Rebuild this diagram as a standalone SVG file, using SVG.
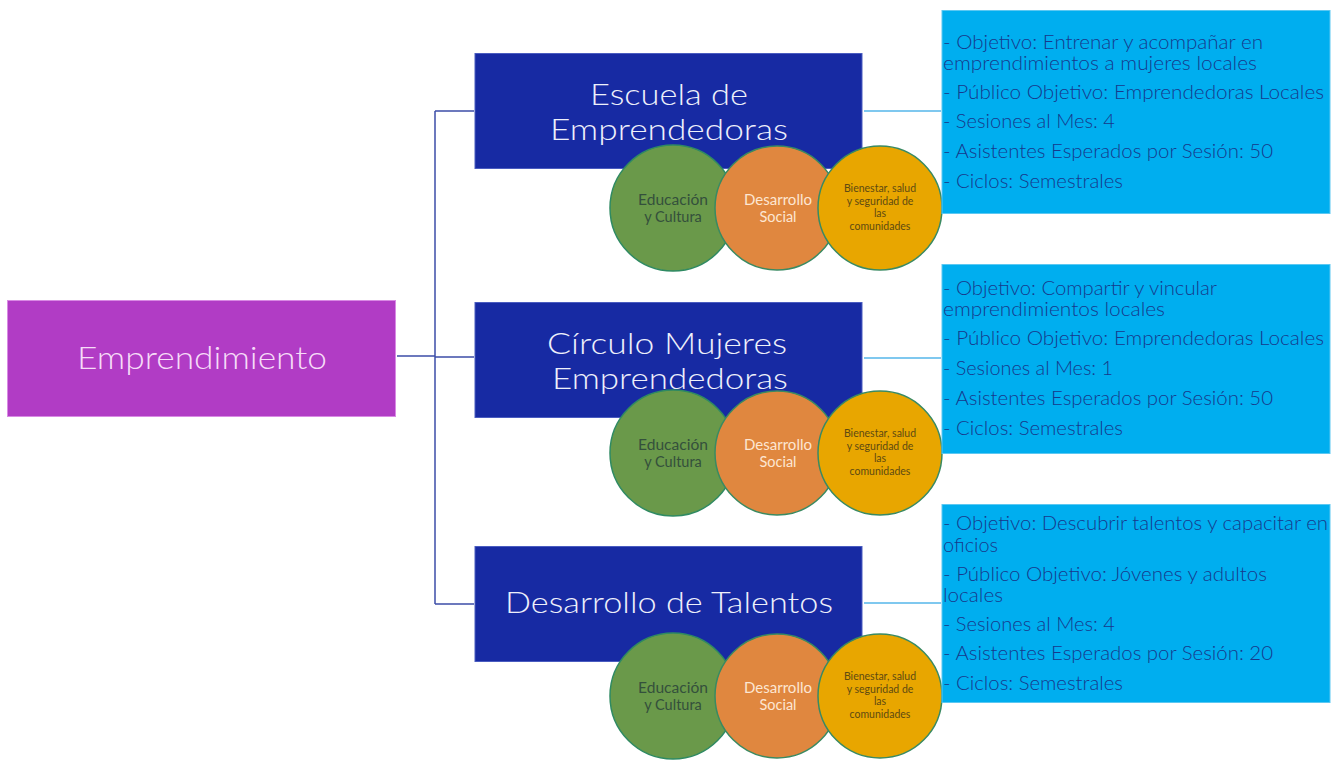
<svg xmlns="http://www.w3.org/2000/svg" width="1341" height="760" viewBox="0 0 1341 760">
<style>
  .root{fill:#b13cc5;stroke:#d98ae4;stroke-width:1}
  .prog{fill:#172aa3;stroke:#4a5cc0;stroke-width:1}
  .info{fill:#00aeef;stroke:#5cc8f2;stroke-width:1}
  .c1{fill:#6a994a;stroke:#2f8a62;stroke-width:1.5}
  .c2{fill:#e0873f;stroke:#3a8a62;stroke-width:1.5}
  .c3{fill:#e8a600;stroke:#3a8a62;stroke-width:1.5}
  .t{font-family:Lato,"Open Sans","Liberation Sans",sans-serif;font-weight:300}
  .ttl{fill:#eef0fb;font-size:30px;text-anchor:middle}
  .rt{fill:#f6dcf8;font-size:32px;text-anchor:middle}
  .it{fill:#17398c;font-size:19px}
  .g{fill:#34503c;font-size:14.5px;text-anchor:middle;font-weight:400}
  .o{fill:#fde6d2;font-size:14.5px;text-anchor:middle;font-weight:400}
  .y{fill:#5e4a12;font-size:10.5px;text-anchor:middle;font-weight:400}
  .cn{fill:none;stroke:#3c4ea8;stroke-width:1.5}
  .cl{fill:none;stroke:#55b6ea;stroke-width:1.5}
</style>
<rect width="1341" height="760" fill="#ffffff"/>
<g id="connectors">
  <path class="cn" d="M397 356 H435 M435 111 V604 M435 111 H474 M435 357 H474 M435 604 H474"/>
  <path class="cl" d="M864 111 H941 M864 358 H941 M864 603 H941"/>
</g>
<g id="emprendimiento">
  <rect class="root" x="7.5" y="300.5" width="388" height="116"/>
  <text class="t rt" x="202" y="369" textLength="250" lengthAdjust="spacingAndGlyphs">Emprendimiento</text>
</g>
<g id="escuela">
  <rect class="prog" x="475" y="53.5" width="387" height="115"/>
  <text class="t ttl" x="669" y="105" textLength="158" lengthAdjust="spacingAndGlyphs">Escuela de</text>
  <text class="t ttl" x="669" y="140" textLength="238" lengthAdjust="spacingAndGlyphs">Emprendedoras</text>
</g>
<g id="escuela-ejes">
  <circle class="c1" cx="673" cy="208" r="63"/>
  <circle class="c2" cx="777" cy="208" r="62"/>
  <circle class="c3" cx="880" cy="208" r="62"/>
  <text class="t g" x="673" y="205" textLength="70" lengthAdjust="spacingAndGlyphs">Educación</text>
  <text class="t g" x="673" y="222">y Cultura</text>
  <text class="t o" x="778" y="205" textLength="68" lengthAdjust="spacingAndGlyphs">Desarrollo</text>
  <text class="t o" x="778" y="222">Social</text>
  <text class="t y" x="880" y="192">Bienestar, salud</text>
  <text class="t y" x="880" y="205">y seguridad de</text>
  <text class="t y" x="880" y="217">las</text>
  <text class="t y" x="880" y="230">comunidades</text>
</g>
<g id="escuela-info">
  <rect class="info" x="942" y="10.5" width="388" height="203"/>
  <text class="t it" x="943" y="49" textLength="320" lengthAdjust="spacingAndGlyphs">- Objetivo: Entrenar y acompañar en</text>
  <text class="t it" x="943" y="70" textLength="314" lengthAdjust="spacingAndGlyphs">emprendimientos a mujeres locales</text>
  <text class="t it" x="943" y="99" textLength="381" lengthAdjust="spacingAndGlyphs">- Público Objetivo: Emprendedoras Locales</text>
  <text class="t it" x="943" y="128" textLength="172" lengthAdjust="spacingAndGlyphs">- Sesiones al Mes: 4</text>
  <text class="t it" x="943" y="158" textLength="330" lengthAdjust="spacingAndGlyphs">- Asistentes Esperados por Sesión: 50</text>
  <text class="t it" x="943" y="188" textLength="180" lengthAdjust="spacingAndGlyphs">- Ciclos: Semestrales</text>
</g>
<g id="circulo">
  <rect class="prog" x="475" y="302.5" width="387" height="115"/>
  <text class="t ttl" x="667" y="354" textLength="240" lengthAdjust="spacingAndGlyphs">Círculo Mujeres</text>
  <text class="t ttl" x="670" y="389" textLength="236" lengthAdjust="spacingAndGlyphs">Emprendedoras</text>
</g>
<g id="circulo-ejes">
  <circle class="c1" cx="673" cy="453" r="63"/>
  <circle class="c2" cx="777" cy="453" r="62"/>
  <circle class="c3" cx="880" cy="453" r="62"/>
  <text class="t g" x="673" y="450" textLength="70" lengthAdjust="spacingAndGlyphs">Educación</text>
  <text class="t g" x="673" y="467">y Cultura</text>
  <text class="t o" x="778" y="450" textLength="68" lengthAdjust="spacingAndGlyphs">Desarrollo</text>
  <text class="t o" x="778" y="467">Social</text>
  <text class="t y" x="880" y="437">Bienestar, salud</text>
  <text class="t y" x="880" y="450">y seguridad de</text>
  <text class="t y" x="880" y="462">las</text>
  <text class="t y" x="880" y="475">comunidades</text>
</g>
<g id="circulo-info">
  <rect class="info" x="942" y="264.5" width="388" height="189"/>
  <text class="t it" x="943" y="295" textLength="274" lengthAdjust="spacingAndGlyphs">- Objetivo: Compartir y vincular</text>
  <text class="t it" x="943" y="316" textLength="222" lengthAdjust="spacingAndGlyphs">emprendimientos locales</text>
  <text class="t it" x="943" y="345" textLength="381" lengthAdjust="spacingAndGlyphs">- Público Objetivo: Emprendedoras Locales</text>
  <text class="t it" x="943" y="375" textLength="170" lengthAdjust="spacingAndGlyphs">- Sesiones al Mes: 1</text>
  <text class="t it" x="943" y="405" textLength="330" lengthAdjust="spacingAndGlyphs">- Asistentes Esperados por Sesión: 50</text>
  <text class="t it" x="943" y="435" textLength="180" lengthAdjust="spacingAndGlyphs">- Ciclos: Semestrales</text>
</g>
<g id="talentos">
  <rect class="prog" x="475" y="546.5" width="387" height="115"/>
  <text class="t ttl" x="669" y="613" textLength="328" lengthAdjust="spacingAndGlyphs">Desarrollo de Talentos</text>
</g>
<g id="talentos-ejes">
  <circle class="c1" cx="673" cy="696" r="63"/>
  <circle class="c2" cx="777" cy="696" r="62"/>
  <circle class="c3" cx="880" cy="696" r="62"/>
  <text class="t g" x="673" y="693" textLength="70" lengthAdjust="spacingAndGlyphs">Educación</text>
  <text class="t g" x="673" y="710">y Cultura</text>
  <text class="t o" x="778" y="693" textLength="68" lengthAdjust="spacingAndGlyphs">Desarrollo</text>
  <text class="t o" x="778" y="710">Social</text>
  <text class="t y" x="880" y="680">Bienestar, salud</text>
  <text class="t y" x="880" y="693">y seguridad de</text>
  <text class="t y" x="880" y="705">las</text>
  <text class="t y" x="880" y="718">comunidades</text>
</g>
<g id="talentos-info">
  <rect class="info" x="942" y="504.5" width="388" height="198"/>
  <text class="t it" x="943" y="530" textLength="385" lengthAdjust="spacingAndGlyphs">- Objetivo: Descubrir talentos y capacitar en</text>
  <text class="t it" x="943" y="552" textLength="55" lengthAdjust="spacingAndGlyphs">oficios</text>
  <text class="t it" x="943" y="581" textLength="324" lengthAdjust="spacingAndGlyphs">- Público Objetivo: Jóvenes y adultos</text>
  <text class="t it" x="943" y="602" textLength="60" lengthAdjust="spacingAndGlyphs">locales</text>
  <text class="t it" x="943" y="631" textLength="172" lengthAdjust="spacingAndGlyphs">- Sesiones al Mes: 4</text>
  <text class="t it" x="943" y="660" textLength="330" lengthAdjust="spacingAndGlyphs">- Asistentes Esperados por Sesión: 20</text>
  <text class="t it" x="943" y="690" textLength="180" lengthAdjust="spacingAndGlyphs">- Ciclos: Semestrales</text>
</g>
</svg>
